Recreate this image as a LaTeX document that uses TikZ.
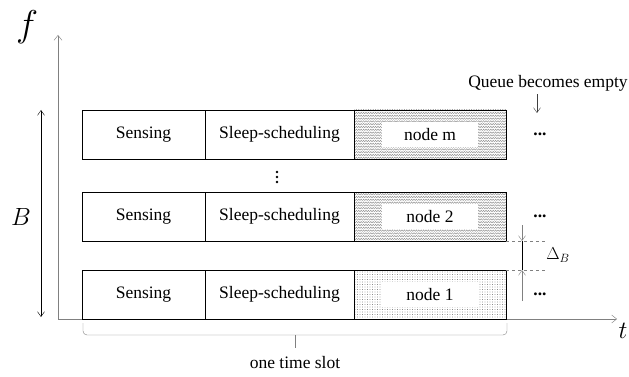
\documentclass[tikz,border=0pt]{standalone}
\usepackage{fontspec}
\setmainfont{Liberation Serif}
\usetikzlibrary{positioning,calc,patterns,arrows.meta}

% wavy hatching for the busy slots
\pgfdeclarepatternformonly{zigzag}{\pgfqpoint{-1pt}{-1pt}}{\pgfqpoint{4pt}{4pt}}{\pgfqpoint{2.4pt}{2.8pt}}{
  \pgfsetlinewidth{0.35pt}
  \pgfpathmoveto{\pgfqpoint{0pt}{0pt}}
  \pgfpathlineto{\pgfqpoint{1.2pt}{1.6pt}}
  \pgfpathlineto{\pgfqpoint{2.4pt}{0pt}}
  \pgfusepath{stroke}
}
% fine dots for the last slot
\pgfdeclarepatternformonly{finedots}{\pgfqpoint{-1pt}{-1pt}}{\pgfqpoint{2.5pt}{2.5pt}}{\pgfqpoint{2.5pt}{2.5pt}}{
  \pgfpathcircle{\pgfqpoint{0pt}{0pt}}{0.45pt}
  \pgfusepath{fill}
}

\begin{document}
\begin{tikzpicture}[x=1pt,y=-1pt,
    font=\fontsize{17.5}{20}\selectfont,
    cell/.style={draw, thick, anchor=north west, minimum height=49pt, inner sep=0pt, outer sep=0pt},
    inner/.style={fill=white, minimum width=96pt, minimum height=25pt, inner sep=0pt},
    axis/.style={draw=gray, -{Straight Barb[length=5pt,width=8pt]}},
    tip/.style={-{Straight Barb[length=5pt,width=7pt]}}]
    \useasboundingbox (0,0) rectangle (629,377);

    % Axes
    \coordinate (o) at (58,319);
    \coordinate (ftop) at (58,35);
    \coordinate (tend) at (617,319);
    \draw[axis] (o) -- (ftop);
    \draw[axis] (o) -- (tend);
    \node[scale=1.5] (f) at (27,27) {\fontsize{24}{24}\selectfont$f$};
    \node (t) at (623,331) {\fontsize{24}{24}\selectfont$t$};

    % Bandwidth
    \coordinate (btop) at (41,110);
    \coordinate (bbot) at (41,317);
    \draw[{Straight Barb[length=5pt,width=7pt]}-{Straight Barb[length=5pt,width=7pt]}] (btop) -- (bbot);
    \node (B) at (21,217) {\fontsize{24}{24}\selectfont$B$};

    % Slots
    \foreach \r/\y/\lab/\pat/\col in {m/110/node m/zigzag/gray, 2/192/node 2/zigzag/gray, 1/270/node 1/finedots/black!70} {
        \node[cell, minimum width=123pt] (s\r) at (82,\y) {Sensing};
        \node[cell, minimum width=149pt, right=0pt of s\r] (c\r) {Sleep-scheduling};
        \node[cell, minimum width=152pt, right=0pt of c\r, pattern=\pat, pattern color=\col] (n\r) {};
        \node[inner] (l\r) at (n\r) {\lab};
        \node (e\r) at ($(n\r.east)+(34,0)$) {\textbf{...}};
    }
    % vertical dots
    \foreach \d in {172,177,182}
        \fill (277,\d) circle (1.3pt);

    % Queue
    \node (q) at (548,83) {Queue becomes empty};
    \coordinate (qa) at (537,113);
    \draw[tip, darkgray] (qa |- q.south) -- (qa);

    % Guard band
    \coordinate (d1) at ($(n2.south east)+(41,0)$);
    \coordinate (d2) at ($(n1.north east)+(41,0)$);
    \draw[dashed, gray] (n2.south east) -- (d1);
    \draw[dashed, gray] (n1.north east) -- (d2);
    \coordinate (a1) at ($(n2.south east)+(16,0)$);
    \coordinate (a2) at ($(n1.north east)+(16,0)$);
    \draw (a1) -- (a2);
    \draw[tip, gray] ($(a1)+(0,-16)$) -- (a1);
    \draw[tip, gray] ($(a2)+(0,31)$) -- (a2);
    \node (db) at (558,255) {$\Delta_B$};

    % Time slot brace
    \coordinate (bl) at (83,323);
    \coordinate (br) at (507,323);
    \coordinate (bm) at (295,335);
    \coordinate (bt) at (295,348);
    \draw[gray, rounded corners=4pt] (bl) |- (bm);
    \draw[gray, rounded corners=4pt] (br) |- (bm);
    \draw[gray] (bm) -- (bt);
    \node (ts) at (295,363) {one time slot};
\end{tikzpicture}
\end{document}
